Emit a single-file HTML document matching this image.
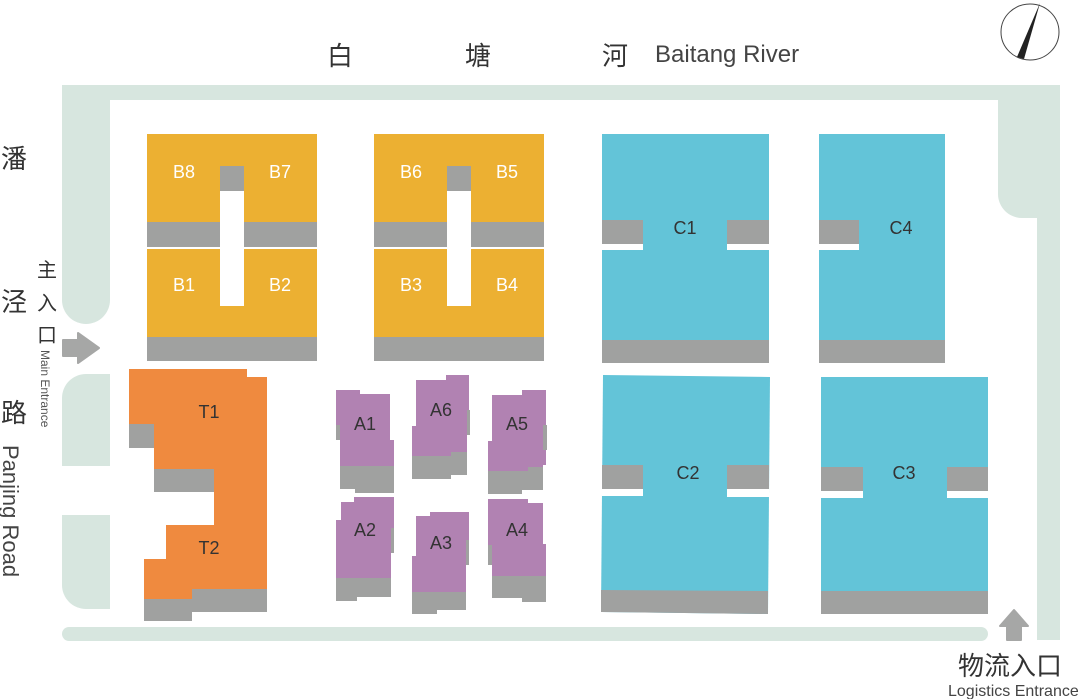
<!DOCTYPE html>
<html><head><meta charset="utf-8"><style>
html,body{margin:0;padding:0;background:#fff;}
svg{display:block;}
text{font-family:"Liberation Sans","Noto Sans CJK SC",sans-serif;}
</style></head><body>
<svg width="1080" height="699" viewBox="0 0 1080 699" xmlns="http://www.w3.org/2000/svg">
<rect width="1080" height="699" fill="#fff"/>
<!-- roads -->
<g fill="#d7e6df">
<rect x="62" y="85" width="998" height="15"/>
<path d="M62 85 H110 V300 A24 24 0 0 1 62 300 Z"/>
<path d="M998 85 H1060 V640 H1037 V218 H1022 A24 24 0 0 1 998 194 Z"/>
<path d="M86 374 H110 V466 H62 V398 A24 24 0 0 1 86 374 Z"/>
<path d="M62 515 H110 V609 H86 A24 24 0 0 1 62 585 Z"/>
<rect x="62" y="627" width="926" height="14" rx="7"/>
</g>
<!-- arrows -->
<path d="M63 340 H78 V333 L99 348 L78 363 V356 H63 Z" fill="#a6a7a6" stroke="#a6a7a6" stroke-width="2" stroke-linejoin="round"/>
<path d="M1007 640 V626 H1000 L1014 610 L1028 626 H1021 V640 Z" fill="#a6a7a6" stroke="#a6a7a6" stroke-width="2" stroke-linejoin="round"/>
<!-- B blocks -->
<g>
<rect x="147" y="134" width="170" height="88" fill="#ecb032"/>
<rect x="147" y="222" width="170" height="25" fill="#a0a1a0"/>
<rect x="147" y="249" width="170" height="88" fill="#ecb032"/>
<rect x="147" y="337" width="170" height="24" fill="#a0a1a0"/>
<rect x="220" y="166" width="24" height="25" fill="#a0a1a0"/>
<rect x="220" y="191" width="24" height="115" fill="#fff"/>
<rect x="374" y="134" width="170" height="88" fill="#ecb032"/>
<rect x="374" y="222" width="170" height="25" fill="#a0a1a0"/>
<rect x="374" y="249" width="170" height="88" fill="#ecb032"/>
<rect x="374" y="337" width="170" height="24" fill="#a0a1a0"/>
<rect x="447" y="166" width="24" height="25" fill="#a0a1a0"/>
<rect x="447" y="191" width="24" height="115" fill="#fff"/>
</g>
<g fill="#fff" font-size="18" text-anchor="middle">
<text x="184" y="178">B8</text><text x="280" y="178">B7</text>
<text x="184" y="291">B1</text><text x="280" y="291">B2</text>
<text x="411" y="178">B6</text><text x="507" y="178">B5</text>
<text x="411" y="291">B3</text><text x="507" y="291">B4</text>
</g>
<!-- C blocks -->
<g>
<rect x="602" y="134" width="167" height="206" fill="#63c4d8"/>
<rect x="602" y="340" width="167" height="23" fill="#a0a1a0"/>
<rect x="602" y="220" width="41" height="24" fill="#a0a1a0"/><rect x="602" y="244" width="41" height="6" fill="#fff"/>
<rect x="727" y="220" width="42" height="24" fill="#a0a1a0"/><rect x="727" y="244" width="42" height="6" fill="#fff"/>
<rect x="819" y="134" width="126" height="206" fill="#63c4d8"/>
<rect x="819" y="340" width="126" height="23" fill="#a0a1a0"/>
<rect x="819" y="220" width="40" height="24" fill="#a0a1a0"/><rect x="819" y="244" width="40" height="6" fill="#fff"/>
<path d="M603 375 L770 377 L768 614 L601 612 Z" fill="#63c4d8"/>
<path d="M601 590 L768 591 L768 614 L601 612 Z" fill="#a0a1a0"/>
<rect x="602" y="465" width="41" height="24" fill="#a0a1a0"/><rect x="602" y="489" width="41" height="7" fill="#fff"/>
<rect x="727" y="465" width="42" height="24" fill="#a0a1a0"/><rect x="727" y="489" width="42" height="8" fill="#fff"/>
<rect x="821" y="377" width="167" height="237" fill="#63c4d8"/>
<rect x="821" y="591" width="167" height="23" fill="#a0a1a0"/>
<rect x="821" y="467" width="42" height="24" fill="#a0a1a0"/><rect x="821" y="491" width="42" height="7" fill="#fff"/>
<rect x="947" y="467" width="41" height="24" fill="#a0a1a0"/><rect x="947" y="491" width="41" height="7" fill="#fff"/>
</g>
<g fill="#333" font-size="18" text-anchor="middle">
<text x="685" y="234">C1</text><text x="901" y="234">C4</text>
<text x="688" y="479">C2</text><text x="904" y="479">C3</text>
</g>
<!-- T -->
<path d="M129 369 H247 V377 H267 V589 H192 V599 H144 V559 H166 V525 H214 V469 H154 V424 H129 Z" fill="#ef8a3f"/>
<g fill="#a0a1a0">
<rect x="129" y="424" width="25" height="24"/>
<rect x="154" y="469" width="60" height="23"/>
<rect x="192" y="589" width="75" height="23"/>
<rect x="144" y="599" width="48" height="22"/>
</g>
<g fill="#333" font-size="18" text-anchor="middle">
<text x="209" y="418">T1</text><text x="209" y="554">T2</text>
</g>
<!-- A -->
<g fill="#b182b2">
<path d="M336 390 H360 V394 H390 V440 H394 V467 H340 V425 H336 Z"/>
<path d="M416 380 H446 V375 H469 V410 H467 V456 H412 V426 H416 Z"/>
<path d="M492 395 H522 V390 H546 V465 H543 V471 H488 V441 H492 Z"/>
<path d="M341 502 H354 V497 H394 V528 H391 V578 H336 V520 H341 Z"/>
<path d="M416 516 H430 V512 H469 V540 H466 V592 H412 V556 H416 Z"/>
<path d="M488 499 H528 V503 H543 V544 H546 V580 H492 V545 H488 Z"/>
</g>
<g fill="#a0a1a0">
<path d="M340 466 H394 V493 H355 V489 H340 Z"/>
<rect x="336" y="425" width="4" height="15"/>
<path d="M412 456 H451 V452 H467 V475 H451 V479 H412 Z"/>
<rect x="467" y="410" width="3" height="25"/>
<path d="M488 471 H528 V467 H543 V490 H522 V494 H488 Z"/>
<rect x="543" y="425" width="4" height="25"/>
<path d="M336 578 H391 V597 H357 V601 H336 Z"/>
<rect x="391" y="528" width="3" height="25"/>
<path d="M412 592 H466 V610 H437 V614 H412 Z"/>
<rect x="466" y="540" width="3" height="25"/>
<path d="M492 576 H546 V602 H522 V598 H492 Z"/>
<rect x="488" y="545" width="4" height="20"/>
</g>
<g fill="#333" font-size="18" text-anchor="middle">
<text x="365" y="430">A1</text><text x="441" y="416">A6</text><text x="517" y="430">A5</text>
<text x="365" y="536">A2</text><text x="441" y="549">A3</text><text x="517" y="536">A4</text>
</g>
<!-- compass -->
<ellipse cx="1030" cy="32" rx="29" ry="28" fill="none" stroke="#444" stroke-width="1"/>
<path d="M1040 3 L1024 59 L1017 57 Z" fill="#222"/>
<!-- labels -->
<g fill="#333" font-size="26" font-family="'Noto Sans CJK SC',sans-serif">
<text x="327" y="65">白</text><text x="465" y="65">塘</text><text x="602" y="65">河</text>
<text x="1" y="168">潘</text><text x="1" y="311">泾</text><text x="1" y="422">路</text>
</g>
<text x="655" y="62" font-size="24" fill="#444">Baitang River</text>
<g fill="#333" font-size="20" font-family="'Noto Sans CJK SC',sans-serif">
<text x="37" y="277">主</text><text x="37" y="310">入</text><text x="37" y="342">口</text>
</g>
<text transform="translate(41,350) rotate(90)" font-size="12" fill="#555">Main Entrance</text>
<text transform="translate(3,445) rotate(90)" font-size="22" fill="#444">Panjing Road</text>
<text x="958" y="675" font-size="26" fill="#333" font-family="'Noto Sans CJK SC',sans-serif">物流入口</text>
<text x="948" y="696" font-size="16" fill="#444">Logistics Entrance</text>
</svg>
</body></html>
